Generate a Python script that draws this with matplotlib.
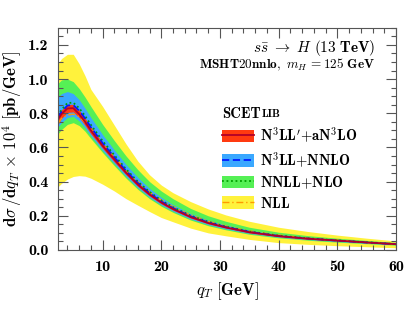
import matplotlib
matplotlib.use("Agg")
import matplotlib.pyplot as plt
from matplotlib.patches import Patch
from matplotlib.lines import Line2D
from matplotlib.ticker import MultipleLocator

plt.rcParams["mathtext.fontset"] = "cm"
plt.rcParams["font.family"] = "cmb10"
plt.rcParams["axes.unicode_minus"] = False

# values, qT in GeV, dsigma/dqT x 1e4 in pb/GeV
qT = [2.4, 3, 4, 5, 6, 7, 8, 10, 12, 14, 16, 18, 20, 22, 25, 28, 31, 35, 40, 45, 50, 55, 60]

nll_hi = [1.09, 1.12, 1.145, 1.145, 1.09, 1.02, 0.94, 0.84, 0.73, 0.62, 0.52, 0.44, 0.38, 0.335,
          0.283, 0.24, 0.205, 0.168, 0.133, 0.108, 0.087, 0.069, 0.053]
nll_lo = [0.37, 0.39, 0.415, 0.43, 0.435, 0.432, 0.42, 0.385, 0.345, 0.3, 0.262, 0.225, 0.19, 0.165,
          0.128, 0.1, 0.083, 0.062, 0.043, 0.033, 0.025, 0.019, 0.013]
nnll_hi = [0.975, 0.995, 1.0, 0.985, 0.945, 0.895, 0.84, 0.735, 0.64, 0.55, 0.47, 0.4, 0.345, 0.3,
           0.243, 0.2, 0.168, 0.133, 0.104, 0.084, 0.069, 0.056, 0.044]
nnll_lo = [0.68, 0.705, 0.735, 0.745, 0.728, 0.695, 0.652, 0.57, 0.493, 0.42, 0.355, 0.3, 0.256, 0.22,
           0.175, 0.142, 0.118, 0.092, 0.071, 0.057, 0.046, 0.037, 0.028]
n3ll_hi = [0.895, 0.915, 0.927, 0.915, 0.88, 0.83, 0.775, 0.675, 0.585, 0.5, 0.425, 0.36, 0.308, 0.265,
           0.213, 0.175, 0.146, 0.115, 0.09, 0.073, 0.06, 0.049, 0.038]
n3ll_lo = [0.72, 0.745, 0.775, 0.782, 0.755, 0.715, 0.668, 0.582, 0.505, 0.43, 0.364, 0.308, 0.263, 0.227,
           0.181, 0.148, 0.123, 0.097, 0.075, 0.061, 0.05, 0.04, 0.031]
n3llp_hi = [0.795, 0.82, 0.852, 0.852, 0.818, 0.772, 0.72, 0.627, 0.545, 0.465, 0.394, 0.334, 0.286, 0.247,
            0.199, 0.163, 0.136, 0.108, 0.084, 0.069, 0.057, 0.046, 0.036]
n3llp_lo = [0.735, 0.77, 0.805, 0.808, 0.775, 0.73, 0.68, 0.595, 0.515, 0.44, 0.372, 0.316, 0.27, 0.233,
            0.187, 0.153, 0.128, 0.1, 0.078, 0.063, 0.053, 0.042, 0.032]

n3llp = [0.765, 0.795, 0.828, 0.83, 0.795, 0.75, 0.70, 0.61, 0.53, 0.452, 0.383, 0.325, 0.278, 0.24,
         0.193, 0.158, 0.132, 0.104, 0.081, 0.066, 0.055, 0.044, 0.034]
n3ll = [0.775, 0.808, 0.845, 0.848, 0.815, 0.77, 0.718, 0.625, 0.543, 0.463, 0.392, 0.332, 0.284, 0.245,
        0.197, 0.161, 0.134, 0.106, 0.082, 0.067, 0.055, 0.044, 0.034]
nnll = [0.785, 0.82, 0.86, 0.862, 0.83, 0.785, 0.732, 0.638, 0.555, 0.473, 0.4, 0.34, 0.29, 0.25,
        0.201, 0.165, 0.137, 0.108, 0.084, 0.068, 0.056, 0.045, 0.035]
nll = [0.74, 0.77, 0.79, 0.795, 0.78, 0.745, 0.705, 0.622, 0.545, 0.468, 0.4, 0.34, 0.292, 0.253,
       0.205, 0.168, 0.14, 0.111, 0.087, 0.07, 0.058, 0.047, 0.036]

labels = [r"$\mathbf{N^3LL^{\prime}{+}aN^3LO}$", r"$\mathbf{N^3LL{+}NNLO}$",
          r"$\mathbf{NNLL{+}NLO}$", r"$\mathbf{NLL}$"]

c_yellow = "#fff23c"
c_green = "#55f055"
c_blue = "#3aa8ff"
c_red = "#ff3a10"

fig = plt.figure(figsize=(4.07, 3.09), dpi=100)
ax = fig.add_axes([0.1425, 0.191, 0.8305, 0.719])

ax.fill_between(qT, nll_lo, nll_hi, color=c_yellow, lw=0)
ax.fill_between(qT, nnll_lo, nnll_hi, color=c_green, lw=0)
ax.fill_between(qT, n3ll_lo, n3ll_hi, color=c_blue, lw=0)
ax.fill_between(qT, n3llp_lo, n3llp_hi, color=c_red, lw=0)

ax.plot(qT, nll, color="#ff9a00", lw=1.0, ls=(0, (5, 2, 1, 2)))
ax.plot(qT, nnll, color="#00a000", lw=1.3, ls=(0, (1, 1.5)))
ax.plot(qT, n3ll, color="#0018ff", lw=1.3, ls=(0, (4, 2)))
ax.plot(qT, n3llp, color="#b0002a", lw=1.3)

ax.set_xlim(2.4, 60)
ax.set_ylim(0, 1.3)
ax.xaxis.set_major_locator(MultipleLocator(10))
ax.xaxis.set_minor_locator(MultipleLocator(2))
ax.yaxis.set_major_locator(MultipleLocator(0.2))
ax.yaxis.set_minor_locator(MultipleLocator(0.05))
ax.tick_params(which="both", direction="in", top=True, right=True, color="#555555", labelsize=11.5)
ax.tick_params(which="major", length=7, width=0.8, pad=7)
ax.tick_params(which="minor", length=3.5, width=0.8)
ax.yaxis.set_major_formatter(matplotlib.ticker.FormatStrFormatter("%.1f"))
for s in ax.spines.values():
    s.set_color("#555555")
    s.set_linewidth(0.8)

ax.set_xlabel(r"$\mathit{q_T}\ \mathbf{[GeV]}$", fontsize=12, labelpad=5)
ax.set_ylabel(r"$\mathbf{d}\mathit{\sigma}\,\mathbf{/d}\mathit{q_T}\,\times\,\mathbf{10^4}\ \mathbf{[pb/GeV]}$",
              fontsize=12, labelpad=3)

ax.text(0.938, 0.892, r"$\mathit{s\bar{s}}\ \rightarrow\ \mathit{H}\ \mathbf{(13\ TeV)}$",
        transform=ax.transAxes, ha="right", va="baseline", fontsize=11)
ax.text(0.938, 0.818, r"$\mathbf{MSHT20nnlo,}\ \mathit{m_H}\,\mathbf{=125\ GeV}$",
        transform=ax.transAxes, ha="right", va="baseline", fontsize=9.5)

t1 = ax.text(0.485, 0.594, "SCET", transform=ax.transAxes, ha="left", va="baseline", fontsize=10.5)
ax.annotate("LIB", xy=(1, 0), xycoords=t1, xytext=(0.5, 1.5), textcoords="offset points",
            ha="left", va="bottom", fontsize=8)

handles = [
    (Patch(color=c_red, lw=0), Line2D([], [], color="#b0002a", lw=1.3)),
    (Patch(color=c_blue, lw=0), Line2D([], [], color="#0018ff", lw=1.3, ls=(0, (4, 2)))),
    (Patch(color=c_green, lw=0), Line2D([], [], color="#00a000", lw=1.3, ls=(0, (1, 1.5)))),
    (Patch(color=c_yellow, lw=0), Line2D([], [], color="#ff9a00", lw=1.0, ls=(0, (5, 2, 1, 2)))),
]
ax.legend(handles, labels, loc="upper left", bbox_to_anchor=(0.485, 0.56), frameon=False,
          borderpad=0, borderaxespad=0, handlelength=2.2, handleheight=0.95,
          labelspacing=0.32, handletextpad=0.4, fontsize=10.5)

fig.savefig("out.png", dpi=100)
